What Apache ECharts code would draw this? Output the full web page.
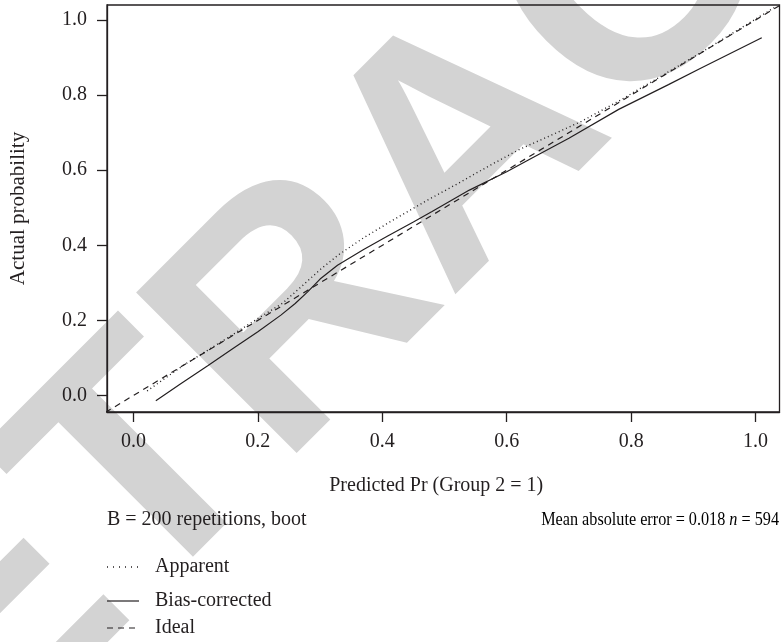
<!DOCTYPE html>
<html>
<head>
<meta charset="utf-8">
<script src="https://cdn.jsdelivr.net/npm/echarts@6/dist/echarts.min.js"></script>
<style>
  html, body { margin: 0; padding: 0; background: #ffffff; }
  #chart { width: 784px; height: 642px; }
</style>
</head>
<body>
<div id="chart"></div>
<script>
// Calibration curves: predicted vs. actual probability
const tickValues = [0.0, 0.2, 0.4, 0.6, 0.8, 1.0];

const apparentX = [0.022, 0.08, 0.15, 0.20, 0.24, 0.27, 0.30, 0.33, 0.37, 0.42, 0.47, 0.52, 0.57, 0.62, 0.67, 0.72, 0.78, 0.85, 0.92, 1.03];
const apparentY = [0.012, 0.080, 0.152, 0.205, 0.246, 0.290, 0.335, 0.375, 0.420, 0.470, 0.518, 0.563, 0.610, 0.655, 0.692, 0.730, 0.784, 0.852, 0.921, 1.033];

const biasX = [0.036, 0.076, 0.12, 0.16, 0.20, 0.237, 0.26, 0.28, 0.30, 0.328, 0.37, 0.408, 0.45, 0.48, 0.54, 0.60, 0.64, 0.70, 0.78, 0.86, 0.911, 1.01];
const biasY = [-0.014, 0.031, 0.080, 0.125, 0.170, 0.214, 0.245, 0.276, 0.310, 0.347, 0.389, 0.424, 0.462, 0.490, 0.547, 0.596, 0.632, 0.685, 0.762, 0.828, 0.871, 0.953];

const idealX = [-0.06, 1.06];
const idealY = [-0.06, 1.06];

const legendNames = ['Apparent', 'Bias-corrected', 'Ideal'];
const subLeft = 'B = 200 repetitions, boot';
const maeText = 'Mean absolute error = 0.018 ';
const nText = '594';

const INK = '#231f20';
const SERIF = '"Liberation Serif", "Times New Roman", serif';
const DOT = [1, 3];
const DASH = [6, 5];

const zip = (xs, ys) => xs.map((x, i) => [x, ys[i]]);

const chart = echarts.init(document.getElementById('chart'), null, { renderer: 'canvas' });

const axisCommon = {
  type: 'value',
  axisLine: { show: true, onZero: false, lineStyle: { color: INK, width: 1.3 } },
  axisTick: { show: true, inside: false, length: 10, customValues: tickValues, lineStyle: { color: INK, width: 1.3 } },
  axisLabel: {
    customValues: tickValues,
    formatter: v => v.toFixed(1),
    color: INK, fontFamily: SERIF, fontSize: 20
  },
  splitLine: { show: false },
  nameLocation: 'middle'
};

const legendStyles = [[1, 5], 'solid', DASH];
const legendWidths = [1.4, 1.2, 1.2];
const legendY = [567, 601, 628];

const graphics = [
  {
    // diagonal stamp behind the plot
    type: 'text',
    z: -10,
    silent: true,
    x: -250, y: 871,
    rotation: 45 * Math.PI / 180,
    style: {
      text: 'RETRACTED',
      font: 'bold 330px "Liberation Sans", Arial, sans-serif',
      fill: '#d3d3d3',
      textAlign: 'left',
      textVerticalAlign: 'middle'
    }
  },
  {
    type: 'text', x: 107, y: 520,
    style: { text: subLeft, font: '20px ' + SERIF, fill: INK, textVerticalAlign: 'middle' }
  },
  {
    type: 'text', x: 779, y: 520, scaleX: 0.9,
    style: {
      text: '{a|' + maeText + '}{i|n}{a| = ' + nText + '}',
      textAlign: 'right', textVerticalAlign: 'middle',
      rich: {
        a: { fontFamily: SERIF, fontSize: 18, color: INK },
        i: { fontFamily: SERIF, fontSize: 18, fontStyle: 'italic', color: INK }
      }
    }
  }
];

legendNames.forEach((name, i) => {
  graphics.push({
    type: 'line',
    shape: { x1: 107, y1: legendY[i], x2: 139, y2: legendY[i] },
    style: { stroke: INK, lineWidth: legendWidths[i], lineDash: legendStyles[i] === 'solid' ? null : legendStyles[i] }
  });
  graphics.push({
    type: 'text', x: 155, y: legendY[i],
    style: { text: name, font: '20px ' + SERIF, fill: INK, textVerticalAlign: 'middle' }
  });
});

const lineSeries = (name, data, type, width) => ({
  name, type: 'line', data, symbol: 'none', showSymbol: false, smooth: false,
  clip: true, animation: false,
  lineStyle: { color: INK, width, type }
});

chart.setOption({
  animation: false,
  backgroundColor: '#ffffff',
  grid: { left: 106, right: 4.5, top: 5, bottom: 230, show: true, borderColor: INK, borderWidth: 1.3 },
  xAxis: Object.assign({}, axisCommon, {
    min: -0.0425, max: 1.0385,
    name: 'Predicted Pr (Group 2 = 1)', nameGap: 64,
    nameTextStyle: { color: INK, fontFamily: SERIF, fontSize: 20, padding: [0, 14, 0, 0] },
    axisLabel: Object.assign({}, axisCommon.axisLabel, { margin: 20 })
  }),
  yAxis: Object.assign({}, axisCommon, {
    min: -0.044, max: 1.040,
    name: 'Actual probability', nameGap: 78, nameRotate: 90,
    nameTextStyle: { color: INK, fontFamily: SERIF, fontSize: 21 },
    axisLabel: Object.assign({}, axisCommon.axisLabel, { margin: 20 })
  }),
  graphic: graphics,
  series: [
    lineSeries(legendNames[0], zip(apparentX, apparentY), DOT, 1.4),
    lineSeries(legendNames[1], zip(biasX, biasY), 'solid', 1.2),
    lineSeries(legendNames[2], zip(idealX, idealY), DASH, 1.2)
  ]
});
</script>
</body>
</html>
